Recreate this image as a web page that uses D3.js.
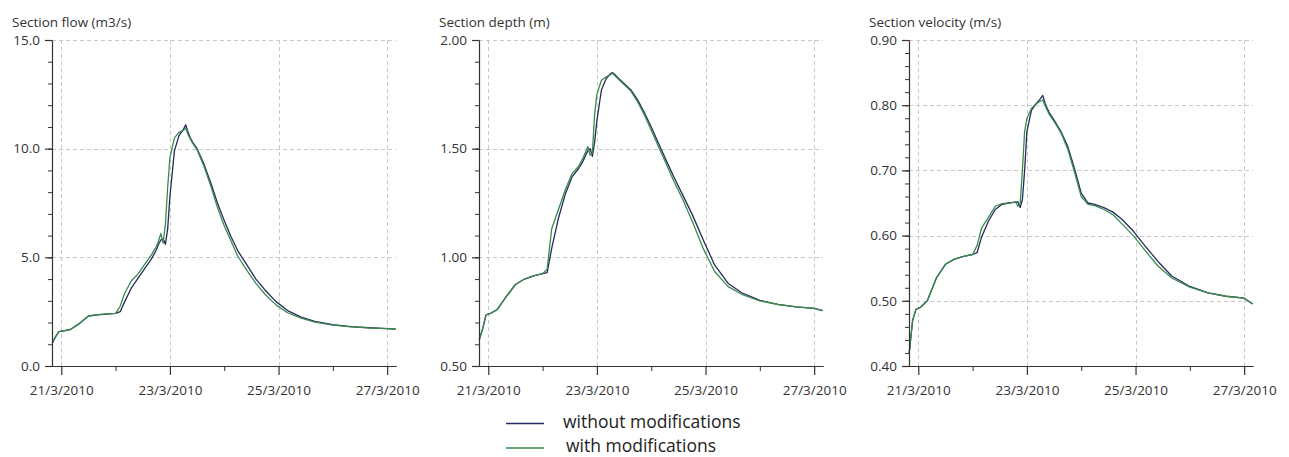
<!DOCTYPE html>
<html>
<head>
<meta charset="utf-8">
<script src="https://cdn.jsdelivr.net/npm/d3@7"></script>
<style>
  html, body { margin: 0; padding: 0; background: #fff; }
  svg { display: block; font-family: "Open Sans", "Noto Sans", sans-serif; }
</style>
</head>
<body>
<svg id="chart" width="1289" height="457"></svg>
<script>
// ---- Data (hours since 21/3/2010 00:00) ----
const hours = [-4, -2.5, -1, 1, 4, 8, 12, 16, 20, 24, 26, 28, 31, 34, 37, 40, 42, 43, 44, 45, 46, 47, 48, 50, 52, 54, 55, 56, 57, 58, 60, 63, 66, 69, 72, 75, 78, 82, 86, 90, 95, 100, 106, 112, 120, 128, 136, 144, 147.8];

const flowWithout = [1.05, 1.35, 1.58, 1.62, 1.68, 1.95, 2.3, 2.35, 2.39, 2.42, 2.5, 2.95, 3.6, 4.05, 4.5, 4.95, 5.35, 5.6, 5.8, 5.85, 5.6, 6.3, 7.8, 9.9, 10.6, 10.9, 11.1, 10.75, 10.5, 10.3, 10.0, 9.3, 8.45, 7.5, 6.7, 5.95, 5.3, 4.65, 4.0, 3.5, 2.95, 2.55, 2.25, 2.05, 1.9, 1.81, 1.76, 1.72, 1.70];
const flowWith = [1.05, 1.35, 1.58, 1.62, 1.68, 1.95, 2.3, 2.36, 2.4, 2.42, 2.75, 3.35, 3.92, 4.25, 4.7, 5.15, 5.5, 5.75, 6.1, 5.65, 6.5, 8.2, 9.6, 10.5, 10.75, 10.85, 10.95, 10.65, 10.45, 10.25, 9.95, 9.2, 8.3, 7.3, 6.45, 5.75, 5.05, 4.4, 3.8, 3.3, 2.8, 2.45, 2.2, 2.02, 1.88, 1.8, 1.75, 1.72, 1.70];

const depthWithout = [0.62, 0.67, 0.735, 0.742, 0.76, 0.82, 0.875, 0.9, 0.915, 0.925, 0.93, 1.04, 1.18, 1.29, 1.37, 1.41, 1.445, 1.47, 1.49, 1.5, 1.465, 1.53, 1.63, 1.77, 1.82, 1.845, 1.85, 1.84, 1.83, 1.82, 1.8, 1.77, 1.725, 1.665, 1.6, 1.53, 1.46, 1.37, 1.285, 1.2, 1.08, 0.965, 0.88, 0.837, 0.802, 0.784, 0.772, 0.765, 0.755];
const depthWith = [0.62, 0.67, 0.735, 0.742, 0.76, 0.82, 0.875, 0.9, 0.915, 0.925, 0.945, 1.13, 1.22, 1.31, 1.385, 1.42, 1.46, 1.485, 1.51, 1.47, 1.48, 1.66, 1.75, 1.815, 1.83, 1.84, 1.847, 1.835, 1.825, 1.815, 1.795, 1.765, 1.715, 1.655, 1.585, 1.515, 1.445, 1.35, 1.265, 1.17, 1.04, 0.935, 0.865, 0.83, 0.8, 0.783, 0.772, 0.765, 0.755];

const velocityWithout = [0.42, 0.47, 0.487, 0.49, 0.5, 0.535, 0.556, 0.564, 0.568, 0.571, 0.574, 0.598, 0.622, 0.64, 0.648, 0.65, 0.651, 0.651, 0.652, 0.643, 0.655, 0.7, 0.76, 0.792, 0.802, 0.81, 0.815, 0.803, 0.795, 0.788, 0.777, 0.76, 0.737, 0.703, 0.665, 0.65, 0.648, 0.643, 0.636, 0.625, 0.607, 0.585, 0.56, 0.538, 0.522, 0.512, 0.507, 0.504, 0.495];
const velocityWith = [0.42, 0.47, 0.487, 0.49, 0.5, 0.535, 0.556, 0.564, 0.568, 0.571, 0.585, 0.612, 0.628, 0.645, 0.649, 0.65, 0.651, 0.652, 0.645, 0.648, 0.7, 0.76, 0.78, 0.795, 0.802, 0.806, 0.808, 0.8, 0.792, 0.785, 0.775, 0.758, 0.733, 0.698, 0.66, 0.648, 0.646, 0.64, 0.632, 0.618, 0.6, 0.578, 0.553, 0.535, 0.521, 0.512, 0.507, 0.504, 0.495];

const panelTitles = ["Section flow (m3/s)", "Section depth (m)", "Section velocity (m/s)"];
const yDomains = [[0, 15], [0.5, 2.0], [0.4, 0.9]];
const yMajorTicks = [[0, 5, 10, 15], [0.5, 1.0, 1.5, 2.0], [0.4, 0.5, 0.6, 0.7, 0.8, 0.9]];
const yMinorStep = [1, 0.1, 0.02];
const yFormats = [".1f", ".2f", ".2f"];
const majorDays = [21, 23, 25, 27];
const minorDays = [22, 24, 26];
const seriesNames = ["without modifications", "with modifications"];
const seriesColors = ["#262a5c", "#3a8a4c"];

// ---- Layout ----
const panelLeft = [52, 479, 909];
const plotW = 344, plotTop = 40, plotBottom = 366;
const base = Date.UTC(2010, 2, 21);
const HOUR = 3600e3;

const svg = d3.select("#chart");
const panelsData = [[flowWithout, flowWith], [depthWithout, depthWith], [velocityWithout, velocityWith]];

panelsData.forEach((series, i) => {
  const left = panelLeft[i];
  const g = svg.append("g");
  const x = d3.scaleUtc()
    .domain([new Date(base - 4.1 * HOUR), new Date(base + 147.9 * HOUR)])
    .range([left, left + plotW]);
  const y = d3.scaleLinear().domain(yDomains[i]).range([plotBottom, plotTop]);

  // grid
  const grid = g.append("g").attr("stroke", "#c9c9c9").attr("stroke-dasharray", "4,3").attr("stroke-width", 1);
  yMajorTicks[i].filter(v => v !== yDomains[i][0]).forEach(v => {
    grid.append("line").attr("x1", left).attr("x2", left + plotW)
      .attr("y1", Math.round(y(v)) + 0.5).attr("y2", Math.round(y(v)) + 0.5);
  });
  majorDays.forEach(d => {
    const xx = Math.round(x(new Date(Date.UTC(2010, 2, d)))) + 0.5;
    grid.append("line").attr("x1", xx).attr("x2", xx).attr("y1", plotTop).attr("y2", plotBottom);
  });

  // lines
  const line = d3.line()
    .x((d, k) => x(new Date(base + hours[k] * HOUR)))
    .y(d => y(d));
  series.forEach((vals, s) => {
    g.append("path").datum(vals)
      .attr("fill", "none")
      .attr("stroke", seriesColors[s])
      .attr("stroke-width", 1.3)
      .attr("stroke-linejoin", "round")
      .attr("d", line);
  });

  // y axis minor
  const [y0, y1] = yDomains[i];
  const n = Math.round((y1 - y0) / yMinorStep[i]);
  const minorVals = d3.range(n + 1).map(k => +(y0 + k * yMinorStep[i]).toFixed(4));
  g.append("g").attr("transform", `translate(${left},0)`)
    .call(d3.axisLeft(y).tickValues(minorVals).tickSize(4).tickSizeOuter(0).tickFormat(""))
    .call(a => a.selectAll("path, line").attr("stroke", "#333"));
  g.append("g").attr("transform", `translate(${left},0)`)
    .call(d3.axisLeft(y).tickValues(yMajorTicks[i]).tickSize(7).tickPadding(5).tickSizeOuter(0).tickFormat(d3.format(yFormats[i])))
    .call(a => a.selectAll("path, line").attr("stroke", "#333").attr("stroke-width", 1.2))
    .call(a => a.selectAll("text").attr("fill", "#333").style("font-size", "13.5px").style("font-family", "'Open Sans', sans-serif"));

  // x axis
  g.append("g").attr("transform", `translate(0,${plotBottom})`)
    .call(d3.axisBottom(x).tickValues(minorDays.map(d => new Date(Date.UTC(2010, 2, d)))).tickSize(5).tickSizeOuter(0).tickFormat(""))
    .call(a => a.selectAll("path, line").attr("stroke", "#333"));
  g.append("g").attr("transform", `translate(0,${plotBottom})`)
    .call(d3.axisBottom(x).tickValues(majorDays.map(d => new Date(Date.UTC(2010, 2, d)))).tickSize(9).tickPadding(10).tickSizeOuter(0).tickFormat(d3.utcFormat("%-d/%-m/%Y")))
    .call(a => a.selectAll("path, line").attr("stroke", "#333").attr("stroke-width", 1.2))
    .call(a => a.selectAll("text").attr("fill", "#333").style("font-size", "13.5px").style("font-family", "'Open Sans', sans-serif"));

  // title
  svg.append("text").attr("x", left - 40).attr("y", 27)
    .attr("fill", "#333").style("font-size", "13.5px")
    .text(panelTitles[i]);
});

// legend
const legend = svg.append("g");
const legendY = [423.5, 448];
const legendTextX = [563, 566];
seriesNames.forEach((name, s) => {
  legend.append("line").attr("x1", 506).attr("x2", 544)
    .attr("y1", legendY[s]).attr("y2", legendY[s])
    .attr("stroke", seriesColors[s]).attr("stroke-width", 1.5);
  legend.append("text").attr("x", legendTextX[s]).attr("y", legendY[s] + 4)
    .attr("fill", "#222").style("font-size", "17.5px")
    .text(name);
});
</script>
</body>
</html>
